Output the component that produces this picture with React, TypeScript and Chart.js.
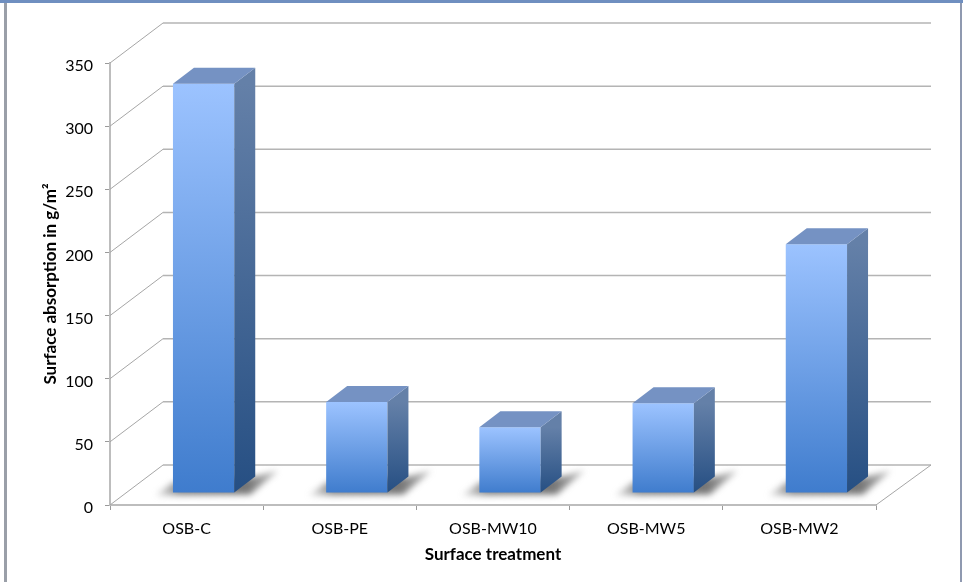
import React, { useEffect, useRef } from "react";
import { Chart, registerables } from "chart.js";

Chart.register(...registerables);

const categories = ["OSB-C", "OSB-PE", "OSB-MW10", "OSB-MW5", "OSB-MW2"];
const absorption = [324, 72, 52, 71, 197];
const yTicks = [0, 50, 100, 150, 200, 250, 300, 350];

// Box depth of the plot floor and of each column, in pixels.
const FLOOR_DX = 53;
const FLOOR_DY = 40;
const BAR_SHIFT_X = 17;
const BAR_SHIFT_Y = -12;
const BAR_DX = 21;
const BAR_DY = -16;

const FONT = "Lato, Carlito, Calibri, sans-serif";

function poly(ctx: CanvasRenderingContext2D, pts: number[][], fill: any) {
  ctx.beginPath();
  pts.forEach(([x, y], i) => (i ? ctx.lineTo(x, y) : ctx.moveTo(x, y)));
  ctx.closePath();
  ctx.fillStyle = fill;
  ctx.fill();
}

function barBox(el: any) {
  const p = el.getProps(["x", "y", "base", "width"], true);
  const left = p.x - p.width / 2 + BAR_SHIFT_X;
  const right = p.x + p.width / 2 + BAR_SHIFT_X;
  return { left, right, top: p.y + BAR_SHIFT_Y, bottom: p.base + BAR_SHIFT_Y };
}

// Page frame around the chart.
const framePlugin = {
  id: "frame",
  beforeDraw(chart: any) {
    const { ctx, width, height } = chart;
    ctx.save();
    ctx.fillStyle = "#ffffff";
    ctx.fillRect(0, 0, width, height);
    ctx.fillStyle = "#9a9fa8";
    ctx.fillRect(4, 0, 3, height);
    ctx.fillStyle = "#8f99b0";
    ctx.fillRect(960, 0, 2, height);
    ctx.fillStyle = "#6f8fc0";
    ctx.fillRect(0, 0, width, 3);
    ctx.restore();
  },
};

// Back wall, side wall and floor, then the floor shadow of each column.
const wallsPlugin = {
  id: "walls",
  beforeDatasetsDraw(chart: any) {
    const { ctx, chartArea, scales } = chart;
    const { left, right, bottom } = chartArea;
    ctx.save();
    yTicks.forEach((t) => {
      const y = scales.y.getPixelForValue(t);
      ctx.strokeStyle = "#a6a6a6";
      ctx.lineWidth = 1;
      ctx.beginPath();
      ctx.moveTo(left, y);
      ctx.lineTo(left + FLOOR_DX, y - FLOOR_DY);
      ctx.stroke();
      ctx.strokeStyle = "#b4b4b4";
      ctx.lineWidth = 1.5;
      ctx.beginPath();
      ctx.moveTo(left + FLOOR_DX, y - FLOOR_DY);
      ctx.lineTo(right + FLOOR_DX + 2, y - FLOOR_DY);
      ctx.stroke();
    });
    ctx.strokeStyle = "#a6a6a6";
    ctx.lineWidth = 1;
    ctx.beginPath();
    ctx.moveTo(right, bottom);
    ctx.lineTo(right + FLOOR_DX + 2, bottom - FLOOR_DY);
    ctx.stroke();

    ctx.filter = "blur(3px)";
    chart.getDatasetMeta(0).data.forEach((el: any) => {
      const b = barBox(el);
      const g = ctx.createLinearGradient(b.left - 18, 0, b.right + 44, 0);
      g.addColorStop(0, "rgba(130,130,130,0.15)");
      g.addColorStop(0.2, "rgba(120,120,120,0.9)");
      g.addColorStop(0.75, "rgba(110,110,110,0.95)");
      g.addColorStop(1, "rgba(130,130,130,0.5)");
      poly(
        ctx,
        [
          [b.left - 18, b.bottom + 3],
          [b.left, b.bottom - 10],
          [b.right + BAR_DX, b.bottom + BAR_DY],
          [b.right + 44, b.bottom - 22],
          [b.right + 16, b.bottom + 2],
        ],
        g
      );
    });
    ctx.restore();
  },
  // Columns stand back from the front axis line.
  beforeDatasetDraw(chart: any) {
    chart.ctx.save();
    chart.ctx.translate(BAR_SHIFT_X, BAR_SHIFT_Y);
  },
  afterDatasetDraw(chart: any) {
    const { ctx } = chart;
    ctx.restore();
    ctx.save();
    chart.getDatasetMeta(0).data.forEach((el: any) => {
      const b = barBox(el);
      const side = ctx.createLinearGradient(0, b.top, 0, b.bottom);
      side.addColorStop(0, "#6480a8");
      side.addColorStop(1, "#264f83");
      poly(
        ctx,
        [
          [b.right, b.top],
          [b.right + BAR_DX, b.top + BAR_DY],
          [b.right + BAR_DX, b.bottom + BAR_DY],
          [b.right, b.bottom],
        ],
        side
      );
      poly(
        ctx,
        [
          [b.left, b.top],
          [b.left + BAR_DX, b.top + BAR_DY],
          [b.right + BAR_DX, b.top + BAR_DY],
          [b.right, b.top],
        ],
        "#7592c3"
      );
    });
    ctx.restore();
  },
};

export default function App() {
  const ref = useRef<HTMLCanvasElement>(null);

  useEffect(() => {
    const chart = new Chart(ref.current as HTMLCanvasElement, {
      type: "bar",
      data: {
        labels: categories,
        datasets: [
          {
            data: absorption,
            categoryPercentage: 1,
            barPercentage: 0.4,
            backgroundColor: (c: any) => {
              const { ctx, scales } = c.chart;
              if (!scales.y || c.dataIndex === undefined) return "#6a9ce0";
              const y0 = scales.y.getPixelForValue(absorption[c.dataIndex]);
              const y1 = scales.y.getPixelForValue(0);
              if (!Number.isFinite(y0) || !Number.isFinite(y1)) return "#6a9ce0";
              const g = ctx.createLinearGradient(0, y0, 0, y1);
              g.addColorStop(0, "#9cc3ff");
              g.addColorStop(1, "#3f7ccd");
              return g;
            },
          },
        ],
      },
      options: {
        animation: false,
        responsive: false,
        layout: { padding: { left: 40, right: 87, top: 63, bottom: 17 } },
        plugins: { legend: { display: false }, tooltip: { enabled: false } },
        scales: {
          x: {
            afterFit: (s: any) => {
              s.height = 60;
            },
            border: { color: "#bdbdbd", width: 2 },
            grid: { drawOnChartArea: false, drawTicks: true, tickLength: 5, color: "#9a9a9a" },
            ticks: { color: "#000", font: { family: FONT, size: 16 }, padding: 9, maxRotation: 0 },
            title: {
              display: true,
              text: "Surface treatment",
              color: "#000",
              font: { family: FONT, size: 17, weight: "bold" },
              padding: 0,
            },
          },
          y: {
            min: 0,
            max: 350,
            afterFit: (s: any) => {
              s.width = 70;
            },
            border: { color: "#bdbdbd", width: 2 },
            grid: { drawOnChartArea: false, drawTicks: true, tickLength: 5, color: "#9a9a9a" },
            ticks: {
              stepSize: 50,
              color: "#000",
              font: { family: FONT, size: 16 },
              padding: 12,
              labelOffset: 3,
            },
            title: {
              display: true,
              text: "Surface absorption in g/m²",
              color: "#000",
              font: { family: FONT, size: 17, weight: "bold" },
              padding: 0,
            },
          },
        },
      },
      plugins: [framePlugin, wallsPlugin],
    } as any);
    return () => chart.destroy();
  }, []);

  return (
    <div style={{ position: "fixed", left: 0, top: 0, width: 963, height: 582 }}>
      <canvas ref={ref} width={963} height={582} style={{ display: "block" }} />
    </div>
  );
}
